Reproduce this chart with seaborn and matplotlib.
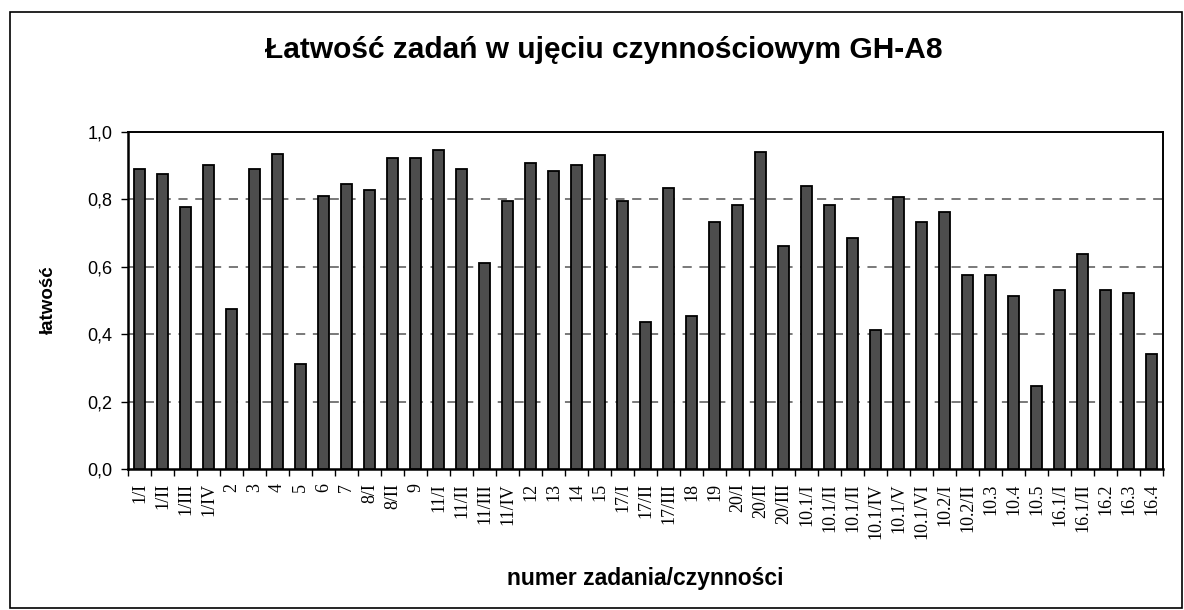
import numpy as np
import pandas as pd
import matplotlib
matplotlib.use("Agg")
import matplotlib.pyplot as plt
from matplotlib.patches import Rectangle
import seaborn as sns

title = "Łatwość zadań w ujęciu czynnościowym GH-A8"
x_title = "numer zadania/czynności"
y_title = "łatwość"

labels = ["1/I", "1/II", "1/III", "1/IV", "2", "3", "4", "5", "6", "7",
          "8/I", "8/II", "9", "11/I", "11/II", "11/III", "11/IV", "12", "13", "14",
          "15", "17/I", "17/II", "17/III", "18", "19", "20/I", "20/II", "20/III",
          "10.1/I", "10.1/II", "10.1/II", "10.1/IV", "10.1/V", "10.1/VI",
          "10.2/I", "10.2/II", "10.3", "10.4", "10.5", "16.1/I", "16.1/II",
          "16.2", "16.3", "16.4"]
values = [0.889, 0.874, 0.778, 0.901, 0.475, 0.889, 0.935, 0.313, 0.810, 0.845,
          0.828, 0.923, 0.923, 0.946, 0.889, 0.610, 0.795, 0.907, 0.884, 0.901,
          0.930, 0.795, 0.436, 0.834, 0.453, 0.733, 0.784, 0.941, 0.660,
          0.839, 0.784, 0.684, 0.414, 0.806, 0.733,
          0.761, 0.576, 0.576, 0.514, 0.246, 0.531, 0.638,
          0.531, 0.521, 0.341]
y_ticks = [0.0, 0.2, 0.4, 0.6, 0.8, 1.0]
y_tick_labels = ["0,0", "0,2", "0,4", "0,6", "0,8", "1,0"]

sns.set_theme(style="white")
plt.rcParams["font.family"] = ["Liberation Sans", "DejaVu Sans"]
plt.rcParams["text.color"] = "black"
plt.rcParams["xtick.color"] = "black"
plt.rcParams["ytick.color"] = "black"
plt.rcParams["xtick.labelcolor"] = "black"
plt.rcParams["ytick.labelcolor"] = "black"

W, H = 1184, 610
fig = plt.figure(figsize=(W / 100, H / 100), dpi=100)
fig.patch.set_facecolor("white")

left, right, top, bottom = 128, 1163, 131.7, 469.3
ax = fig.add_axes([left / W, 1 - bottom / H, (right - left) / W, (bottom - top) / H])

df = pd.DataFrame({"pos": np.arange(len(values)), "val": values})
sns.barplot(data=df, x="pos", y="val", color="#4d4d4d", saturation=1,
            edgecolor="black", linewidth=1.3, width=0.47, ax=ax, zorder=3)

ax.set_xlim(-0.5, len(values) - 0.5)
ax.set_ylim(0, 1.0)

for yv in y_ticks[1:-1]:
    ax.axhline(yv, color="#555555", lw=1.1, dashes=(6, 5), zorder=1)

ax.set_yticks(y_ticks)
ax.set_yticklabels(y_tick_labels, fontsize=13, family=["Liberation Sans"], color="black")
ax.tick_params(axis="y", direction="out", length=5, width=1, color="black", pad=6, left=True)

ax.set_xticks(np.arange(len(values)))
ax.set_xticklabels(labels, rotation=90, fontsize=13, family=["Liberation Serif"],
                   ha="center", va="top", color="black")
ax.tick_params(axis="x", which="major", length=0, pad=10, bottom=True)
ax.set_xticks(np.arange(len(values) + 1) - 0.5, minor=True)
ax.tick_params(axis="x", which="minor", direction="out", length=5, width=1,
               color="black", bottom=True)

ax.set_xlabel("")
ax.set_ylabel("")

for side in ["left", "bottom"]:
    ax.spines[side].set_linewidth(1.8)
    ax.spines[side].set_color("black")
for side in ["top", "right"]:
    ax.spines[side].set_linewidth(1.4)
    ax.spines[side].set_color("black")
    ax.spines[side].set_visible(True)

fig.text(604 / W, 1 - 50 / H, title, fontsize=21.5, fontweight="bold",
         ha="center", va="center", family=["Liberation Sans"], color="black")
fig.text(645 / W, 1 - 578 / H, x_title, fontsize=16.5, fontweight="bold",
         ha="center", va="center", family=["Liberation Sans"], color="black")
fig.text(48 / W, 1 - 300 / H, y_title, fontsize=13.5, fontweight="bold",
         ha="center", va="center", rotation=90, family=["Liberation Sans"], color="black")

fig.patches.append(Rectangle((10 / W, 2 / H), (1182 - 10) / W, (608 - 12) / H,
                             transform=fig.transFigure, fill=False,
                             edgecolor="black", lw=1.2))

fig.savefig("out.png", dpi=100, facecolor="white")
